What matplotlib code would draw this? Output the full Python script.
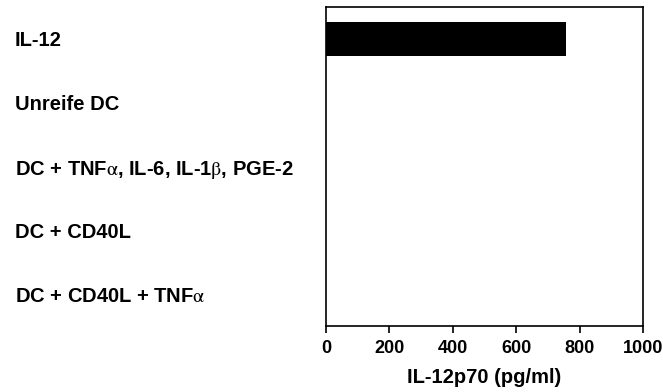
import matplotlib.pyplot as plt

plt.rcParams['font.family'] = ['Liberation Sans', 'DejaVu Sans']
plt.rcParams['mathtext.fontset'] = 'stix'

groups = ["IL-12", "Unreife DC", r"DC + TNF$\mathrm{\alpha}$, IL-6, IL-1$\mathrm{\beta}$, PGE-2",
          "DC + CD40L", r"DC + CD40L + TNF$\mathrm{\alpha}$"]
il12p70 = [755, 0, 0, 0, 0]
xticks = [0, 200, 400, 600, 800, 1000]

fig = plt.figure(figsize=(6.63, 3.92), dpi=100)
ax = fig.add_axes([0.4917, 0.168, 0.4785, 0.814])

pos = list(range(len(groups)))
ax.barh(pos, il12p70, height=0.53, color="black")
ax.set_ylim(4.5, -0.5)
ax.set_xlim(0, 1000)
ax.set_xticks(xticks)
ax.set_xticklabels([str(t) for t in xticks], fontsize=13, fontweight="bold")
ax.set_yticks(pos)
ax.set_yticklabels(groups, fontsize=14.5, fontweight="bold", ha="left")
ax.tick_params(axis="y", length=0, pad=224)
ax.tick_params(axis="x", direction="out", length=5, width=1.2, pad=5)
ax.set_xlabel("IL-12p70 (pg/ml)", fontsize=14.5, fontweight="bold", labelpad=8)
for s in ax.spines.values():
    s.set_linewidth(1.2)

fig.savefig("out.png", dpi=100)
